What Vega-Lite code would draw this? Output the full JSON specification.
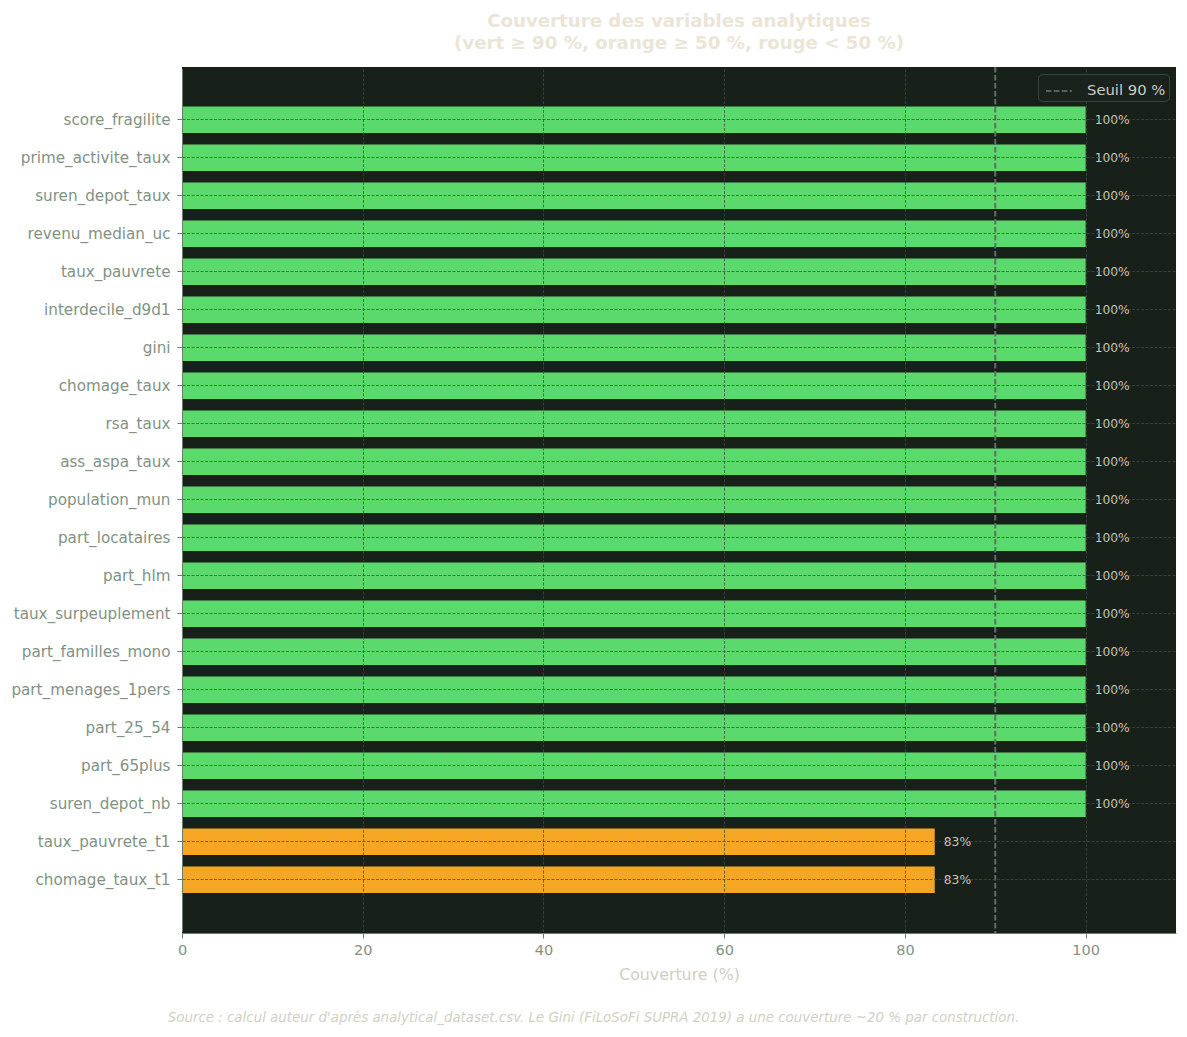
{
  "$schema": "https://vega.github.io/schema/vega-lite/v6.json",
  "background": "#ffffff",
  "padding": {"left": 10, "top": 11, "right": 11, "bottom": 10},
  "datasets": {
    "couverture": [
      {"variable": "score_fragilite", "couverture": 100},
      {"variable": "prime_activite_taux", "couverture": 100},
      {"variable": "suren_depot_taux", "couverture": 100},
      {"variable": "revenu_median_uc", "couverture": 100},
      {"variable": "taux_pauvrete", "couverture": 100},
      {"variable": "interdecile_d9d1", "couverture": 100},
      {"variable": "gini", "couverture": 100},
      {"variable": "chomage_taux", "couverture": 100},
      {"variable": "rsa_taux", "couverture": 100},
      {"variable": "ass_aspa_taux", "couverture": 100},
      {"variable": "population_mun", "couverture": 100},
      {"variable": "part_locataires", "couverture": 100},
      {"variable": "part_hlm", "couverture": 100},
      {"variable": "taux_surpeuplement", "couverture": 100},
      {"variable": "part_familles_mono", "couverture": 100},
      {"variable": "part_menages_1pers", "couverture": 100},
      {"variable": "part_25_54", "couverture": 100},
      {"variable": "part_65plus", "couverture": 100},
      {"variable": "suren_depot_nb", "couverture": 100},
      {"variable": "taux_pauvrete_t1", "couverture": 83.3},
      {"variable": "chomage_taux_t1", "couverture": 83.3}
    ],
    "seuil": [
      {"seuil": 90, "label": "Seuil 90 %"}
    ]
  },
  "title": {
    "text": "Source : calcul auteur d'après analytical_dataset.csv. Le Gini (FiLoSoFi SUPRA 2019) a une couverture ~20 % par construction.",
    "orient": "bottom",
    "anchor": "middle",
    "frame": "bounds",
    "fontSize": 13.4,
    "fontStyle": "italic",
    "fontWeight": "normal",
    "color": "#d3cfc5",
    "offset": 29
  },
  "vconcat": [
    {
      "title": {
        "text": ["Couverture des variables analytiques", "(vert ≥ 90 %, orange ≥ 50 %, rouge < 50 %)"],
        "anchor": "middle",
        "frame": "group",
        "fontSize": 18.2,
        "fontWeight": "bold",
        "color": "#ebe5d7",
        "lineHeight": 22,
        "offset": 13
      },
      "width": 994,
      "height": 866,
      "layer": [
        {
          "data": {"name": "couverture"},
          "mark": {"type": "bar"},
          "encoding": {
            "y": {
              "field": "variable",
              "type": "nominal",
              "sort": null,
              "scale": {"paddingInner": 0.3, "paddingOuter": 1, "range": [1.5, 864]},
              "axis": {
                "title": null,
                "grid": true,
                "bandPosition": 0.5,
                "gridDash": [3, 1.5],
                "gridColor": "#3b4f3f",
                "gridOpacity": 0.75,
                "labelFontSize": 15.2,
                "labelColor": "#7f9284",
                "labelPadding": 7,
                "tickSize": 5,
                "tickColor": "#6a7c6d",
                "domainColor": "#6a7c6d",
                "zindex": 1
              }
            },
            "x": {
              "field": "couverture",
              "type": "quantitative",
              "scale": {"domain": [0, 110], "nice": false},
              "axis": {
                "values": [0, 20, 40, 60, 80, 100],
                "title": "Couverture (%)",
                "grid": true,
                "gridDash": [3, 1.5],
                "gridColor": "#3b4f3f",
                "gridOpacity": 0.75,
                "labelFontSize": 14.5,
                "labelFlush": false,
                "labelColor": "#7f9284",
                "labelPadding": 5,
                "tickSize": 5,
                "tickColor": "#6a7c6d",
                "domainColor": "#6a7c6d",
                "titleFontSize": 15.8,
                "titleColor": "#d1cdc2",
                "titleFontWeight": "normal",
                "titlePadding": 11,
                "zindex": 1
              }
            },
            "color": {
              "condition": [
                {"test": "datum.couverture >= 90", "value": "#5bd96d"},
                {"test": "datum.couverture >= 50", "value": "#f5a623"}
              ],
              "value": "#e5484d"
            }
          }
        },
        {
          "data": {"name": "couverture"},
          "transform": [
            {"calculate": "format(datum.couverture, '.0f') + '%'", "as": "etiquette"}
          ],
          "mark": {"type": "text", "align": "left", "baseline": "middle", "dx": 9, "fontSize": 12.3, "color": "#cbc7bb"},
          "encoding": {
            "y": {"field": "variable", "type": "nominal", "sort": null},
            "x": {"field": "couverture", "type": "quantitative"},
            "text": {"field": "etiquette", "type": "nominal"}
          }
        },
        {
          "data": {"name": "seuil"},
          "mark": {"type": "rule", "color": "#5f6f63", "strokeWidth": 2},
          "encoding": {
            "x": {"field": "seuil", "type": "quantitative"},
            "strokeDash": {
              "field": "label",
              "type": "nominal",
              "scale": {"range": [[5.5, 2.5]]},
              "legend": {
                "title": null,
                "orient": "top-right",
                "offset": 7,
                "fillColor": "#1a221c",
                "strokeColor": "#34463a",
                "cornerRadius": 4,
                "padding": 3,
                "labelColor": "#cfcac0",
                "labelFontSize": 14.8,
                "labelOffset": 14,
                "symbolType": "stroke",
                "symbolSize": 676,
                "symbolOffset": 4,
                "symbolStrokeColor": "#6a7a6d",
                "symbolStrokeWidth": 1.5
              }
            }
          }
        }
      ]
    }
  ],
  "config": {
    "font": "DejaVu Sans",
    "view": {"stroke": null, "fill": "#18201a"}
  }
}
